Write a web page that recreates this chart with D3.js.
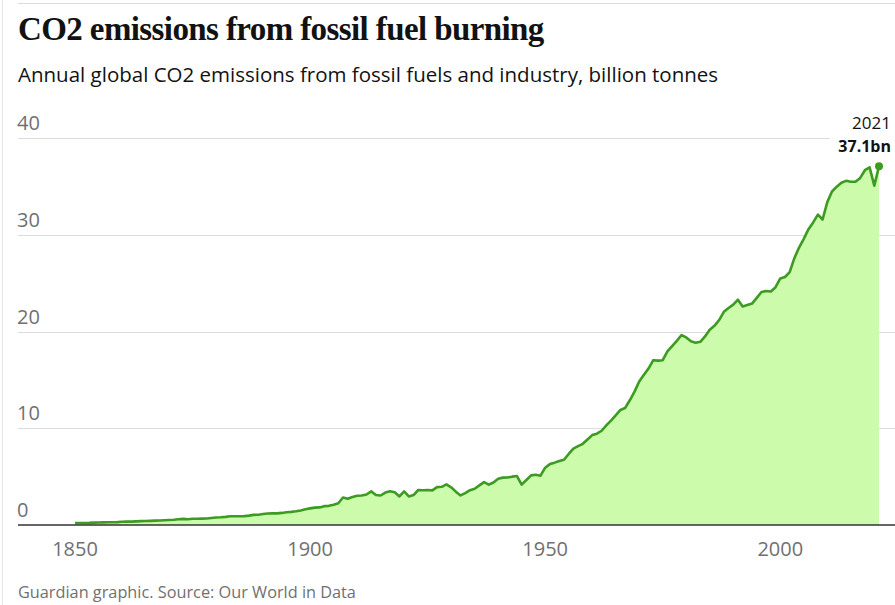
<!DOCTYPE html>
<html>
<head>
<meta charset="utf-8">
<script src="https://cdn.jsdelivr.net/npm/d3@7"></script>
<style>
  body { margin: 0; background: #fff; }
  svg { display: block; }
</style>
</head>
<body>
<svg id="chart" width="895" height="605"></svg>
<script>
// years 1850 - 2021, global CO2 from fossil fuels and industry (bn tonnes)
var years = d3.range(1850, 2022);
var emissions = [
  0.20, 0.20, 0.21, 0.22, 0.25, 0.26, 0.27, 0.28, 0.29, 0.30,
  0.33, 0.35, 0.35, 0.37, 0.40, 0.42, 0.43, 0.45, 0.46, 0.49,
  0.52, 0.55, 0.60, 0.63, 0.60, 0.64, 0.65, 0.66, 0.67, 0.72,
  0.78, 0.80, 0.84, 0.90, 0.91, 0.91, 0.92, 0.97, 1.05, 1.06,
  1.13, 1.19, 1.21, 1.20, 1.25, 1.32, 1.36, 1.42, 1.50, 1.62,
  1.72, 1.80, 1.82, 1.95, 1.98, 2.10, 2.25, 2.85, 2.72, 2.90,
  3.02, 3.05, 3.15, 3.48, 3.10, 3.05, 3.35, 3.50, 3.38, 2.95,
  3.47, 2.95, 3.10, 3.62, 3.60, 3.62, 3.58, 3.92, 3.95, 4.20,
  3.90, 3.45, 3.06, 3.30, 3.60, 3.75, 4.10, 4.44, 4.17, 4.40,
  4.79, 4.90, 4.92, 5.00, 5.06, 4.17, 4.65, 5.13, 5.20, 5.10,
  5.93, 6.30, 6.45, 6.62, 6.75, 7.35, 7.90, 8.15, 8.40, 8.85,
  9.30, 9.45, 9.75, 10.30, 10.80, 11.35, 11.90, 12.10, 12.90, 13.80,
  14.85, 15.55, 16.20, 17.05, 17.00, 17.05, 17.95, 18.50, 19.05, 19.65,
  19.40, 19.00, 18.85, 18.95, 19.50, 20.20, 20.60, 21.20, 22.05, 22.45,
  22.80, 23.30, 22.60, 22.75, 22.90, 23.50, 24.10, 24.20, 24.15, 24.60,
  25.50, 25.65, 26.15, 27.60, 28.70, 29.60, 30.60, 31.30, 32.10, 31.60,
  33.40, 34.50, 35.00, 35.40, 35.60, 35.50, 35.50, 35.90, 36.70, 37.00,
  35.10, 37.10
];
var yTicks = [0, 10, 20, 30, 40];
var xTicks = [1850, 1900, 1950, 2000];

var data = years.map(function (y, i) { return { year: y, value: emissions[i] }; });
var last = data[data.length - 1];

var svg = d3.select("#chart");

var x = d3.scaleLinear().domain([1850, 2021]).range([75, 879]);
var y = d3.scaleLinear().domain([0, 40]).range([525, 138.3]);

// page frame lines
svg.append("line")
  .attr("x1", 2.5).attr("x2", 2.5).attr("y1", 0).attr("y2", 605)
  .attr("stroke", "#e6e6e6").attr("stroke-width", 1);
svg.append("line")
  .attr("x1", 18).attr("x2", 895).attr("y1", 3.5).attr("y2", 3.5)
  .attr("stroke", "#dcdcdc").attr("stroke-width", 1);

// title + subtitle
svg.append("text")
  .attr("x", 18).attr("y", 40)
  .attr("font-family", "'Liberation Serif', 'DejaVu Serif', serif")
  .attr("font-weight", "bold")
  .attr("font-size", 33)
  .attr("letter-spacing", -0.6)
  .attr("fill", "#121212")
  .text("CO2 emissions from fossil fuel burning");

svg.append("text")
  .attr("x", 18).attr("y", 82)
  .attr("font-family", "'Open Sans', sans-serif")
  .attr("font-size", 20.5)
  .attr("fill", "#121212")
  .text("Annual global CO2 emissions from fossil fuels and industry, billion tonnes");

// gridlines and y labels
var grid = svg.append("g");
grid.selectAll("line")
  .data(yTicks.filter(function (d) { return d > 0; }))
  .enter().append("line")
  .attr("x1", 18).attr("x2", 895)
  .attr("y1", function (d) { return Math.round(y(d)) + 0.5; })
  .attr("y2", function (d) { return Math.round(y(d)) + 0.5; })
  .attr("stroke", "#dcdcdc").attr("stroke-width", 1);

grid.selectAll("text")
  .data(yTicks)
  .enter().append("text")
  .attr("x", 17)
  .attr("y", function (d) { return y(d) - 8; })
  .attr("font-family", "'Open Sans', sans-serif")
  .attr("font-size", 20)
  .attr("fill", "#707070")
  .text(function (d) { return d; });

// area + line
var area = d3.area()
  .x(function (d) { return x(d.year); })
  .y0(y(0))
  .y1(function (d) { return y(d.value); });

var line = d3.line()
  .x(function (d) { return x(d.year); })
  .y(function (d) { return y(d.value); });

svg.append("path")
  .datum(data)
  .attr("d", area)
  .attr("fill", "#ccfbac");

svg.append("path")
  .datum(data)
  .attr("d", line)
  .attr("fill", "none")
  .attr("stroke", "#3c9b21")
  .attr("stroke-width", 2.6)
  .attr("stroke-linejoin", "round");

// baseline
svg.append("line")
  .attr("x1", 18).attr("x2", 895)
  .attr("y1", y(0)).attr("y2", y(0))
  .attr("stroke", "#333").attr("stroke-width", 1.5);

// x labels
svg.append("g").selectAll("text")
  .data(xTicks)
  .enter().append("text")
  .attr("x", function (d) { return x(d); })
  .attr("y", 556)
  .attr("text-anchor", "middle")
  .attr("font-family", "'Open Sans', sans-serif")
  .attr("font-size", 20)
  .attr("fill", "#707070")
  .text(function (d) { return d; });

// annotation for last point
var ann = svg.append("g");
ann.append("rect")
  .attr("x", 830).attr("y", 108).attr("width", 65).attr("height", 48)
  .attr("fill", "#fff");
ann.append("text")
  .attr("x", 891).attr("y", 129)
  .attr("text-anchor", "end")
  .attr("font-family", "'Open Sans', sans-serif")
  .attr("font-size", 17)
  .attr("fill", "#121212")
  .text(last.year);
ann.append("text")
  .attr("x", 891).attr("y", 152)
  .attr("text-anchor", "end")
  .attr("font-family", "'Open Sans', sans-serif")
  .attr("font-weight", "bold")
  .attr("font-size", 16)
  .attr("fill", "#121212")
  .text(last.value.toFixed(1) + "bn");

svg.append("circle")
  .attr("cx", x(last.year)).attr("cy", y(last.value))
  .attr("r", 4)
  .attr("fill", "#3c9b21");

// source
svg.append("text")
  .attr("x", 18).attr("y", 598)
  .attr("font-family", "'Open Sans', sans-serif")
  .attr("font-size", 16.3)
  .attr("fill", "#707070")
  .text("Guardian graphic. Source: Our World in Data");
</script>
</body>
</html>
